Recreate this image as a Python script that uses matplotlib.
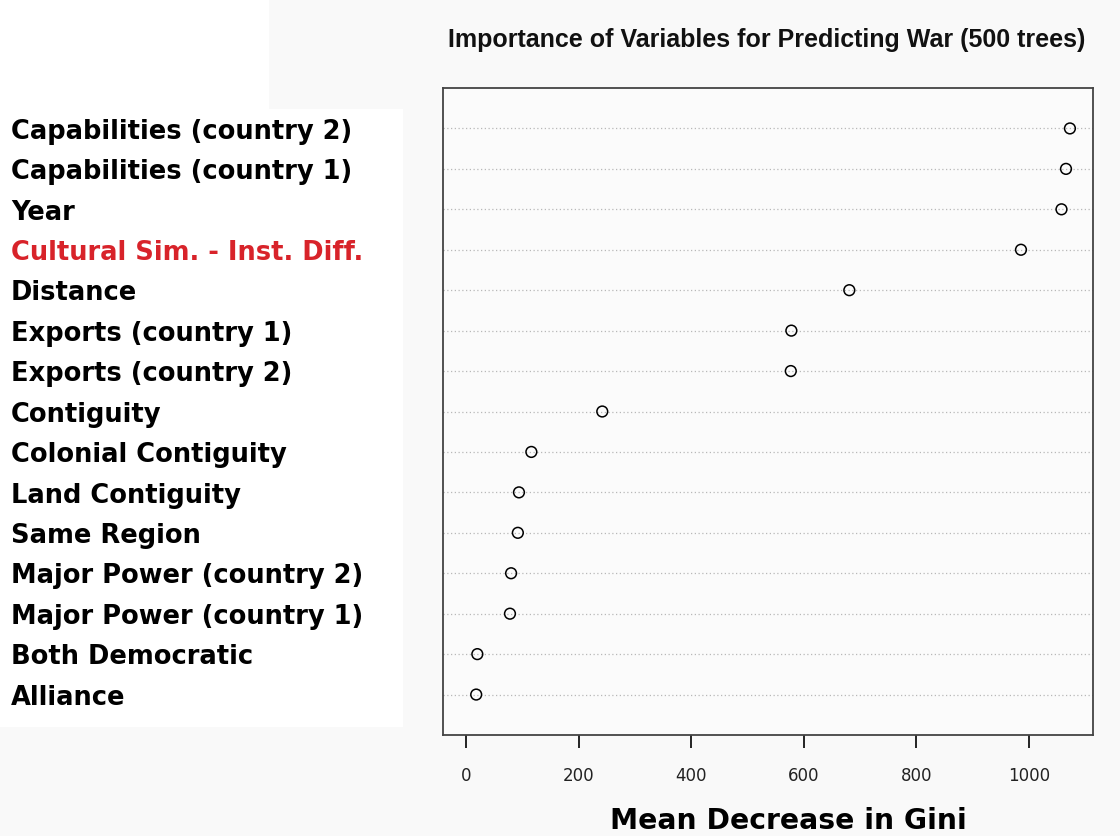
import matplotlib.pyplot as plt
import matplotlib.transforms as mtransforms
from matplotlib.patches import Rectangle

# variable importance from the random forest, top to bottom
variables = ['Capabilities (country 2)', 'Capabilities (country 1)', 'Year',
             'Cultural Sim. - Inst. Diff.', 'Distance', 'Exports (country 1)',
             'Exports (country 2)', 'Contiguity', 'Colonial Contiguity',
             'Land Contiguity', 'Same Region', 'Major Power (country 2)',
             'Major Power (country 1)', 'Both Democratic', 'Alliance']
gini = [1073, 1066, 1058, 986, 681, 578, 577, 242, 116, 94, 92, 80, 78, 20, 18]
highlight = 'Cultural Sim. - Inst. Diff.'
xticks = [0, 200, 400, 600, 800, 1000]

fig = plt.figure(figsize=(11.2, 8.36), dpi=100, facecolor='#f9f9f9')
# white panels behind the variable names
fig.patches.append(Rectangle((0, 0.13), 0.36, 0.74, transform=fig.transFigure,
                             facecolor='white', edgecolor='none', zorder=-5))
fig.patches.append(Rectangle((0, 0.86), 0.24, 0.14, transform=fig.transFigure,
                             facecolor='white', edgecolor='none', zorder=-5))
ax = fig.add_axes([443/1120, 1 - 735/836, 650/1120, 647/836])
ax.set_facecolor('#fbfbfb')

n = len(variables)
ypos = [n - i for i in range(n)]

for y in ypos:
    ax.axhline(y, color='#b8b8b8', lw=0.9, ls=(0, (1, 2)), zorder=1)
ax.scatter(gini, ypos, s=60, facecolors='none', edgecolors='black',
           linewidths=1.1, zorder=3)

ax.set_xlim(-41, 1114)
ax.set_ylim(0, n + 1)
ax.set_yticks([])
ax.set_xticks(xticks)
ax.set_xticklabels([str(t) for t in xticks], fontsize=12, color='#222222',
                   family='DejaVu Sans')
ax.tick_params(axis='x', direction='out', length=9, width=1.2, pad=14)
for s in ax.spines.values():
    s.set_color('#444444')
    s.set_linewidth(1.3)

fig.text(767/1120, 1 - 40/836,
         'Importance of Variables for Predicting War (500 trees)',
         fontsize=18, fontweight='bold', family='Liberation Sans',
         ha='center', va='center', color='#111111')
fig.text(788/1120, 1 - 821/836, 'Mean Decrease in Gini', fontsize=20.3,
         fontweight='bold', family='DejaVu Sans', ha='center', va='center')

# variable names on the left, in figure x and data y
trans = mtransforms.blended_transform_factory(fig.transFigure, ax.transData)
for name, y in zip(variables, ypos):
    ax.text(11/1120, y - 0.08, name, transform=trans, ha='left', va='center',
            fontsize=18.5, fontweight='bold', family='DejaVu Sans',
            color='#d8232a' if name == highlight else 'black', clip_on=False)

plt.savefig('out.png', dpi=100, facecolor=fig.get_facecolor())
